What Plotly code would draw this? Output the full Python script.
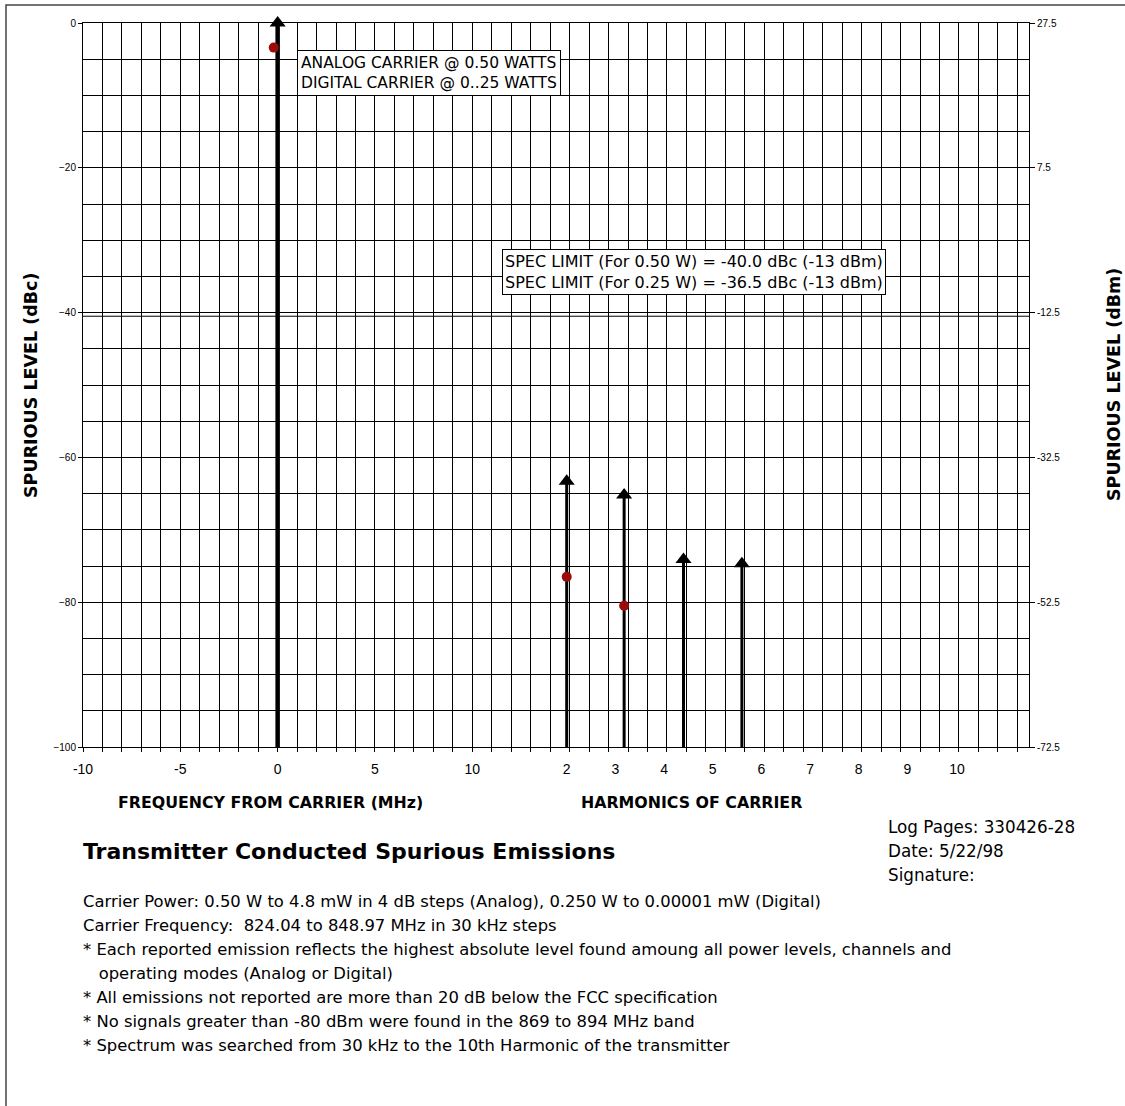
import plotly.graph_objects as go

# ---------------- data ----------------
# x position (axis units: MHz from carrier on left part, harmonic slots on right part)
stem_x = [0.0, 14.85, 17.8, 20.85, 23.85]
stem_level_dbc = [0.0, -63.3, -65.2, -74.1, -74.7]   # analog emissions (arrow tips)
stem_width = [4.5, 3, 3, 3, 3]

digital_x = [-0.2, 14.85, 17.8]
digital_level_dbc = [-3.4, -76.5, -80.5]             # digital emissions (red dots)

spec_limit_dbc = -40.5

x_tick_vals = [-10, -5, 0, 5, 10, 14.85, 17.35, 19.85, 22.35, 24.85, 27.35, 29.85, 32.35, 34.9]
x_tick_text = ["-10", "-5", "0", "5", "10", "2", "3", "4", "5", "6", "7", "8", "9", "10"]

y_left_ticks = [0, -20, -40, -60, -80, -100]
y_right_ticks = [27.5, 7.5, -12.5, -32.5, -52.5, -72.5]
dbm_offset = 27.5
y_floor = -100
x_range = [-10, 38.6]

notes = [
    "Carrier Power: 0.50 W to 4.8 mW in 4 dB steps (Analog), 0.250 W to 0.00001 mW (Digital)",
    "Carrier Frequency:  824.04 to 848.97 MHz in 30 kHz steps",
    "* Each reported emission reflects the highest absolute level found amoung all power levels, channels and",
    "   operating modes (Analog or Digital)",
    "* All emissions not reported are more than 20 dB below the FCC specification",
    "* No signals greater than -80 dBm were found in the 869 to 894 MHz band",
    "* Spectrum was searched from 30 kHz to the 10th Harmonic of the transmitter",
]
log_info = ["Log Pages: 330426-28", "Date: 5/22/98", "Signature:"]

FONT = "Arial, 'Liberation Sans', sans-serif"
WIDE = "'DejaVu Sans', Verdana, sans-serif"

fig = go.Figure()

# spec limit line
fig.add_trace(go.Scatter(x=x_range, y=[spec_limit_dbc, spec_limit_dbc], mode="lines",
                         line=dict(color="black", width=1), showlegend=False, hoverinfo="skip"))

# stems
for xv, yv, w in zip(stem_x, stem_level_dbc, stem_width):
    fig.add_trace(go.Scatter(x=[xv, xv], y=[y_floor, yv], mode="lines",
                             line=dict(color="black", width=w), showlegend=False))
fig.add_trace(go.Scatter(x=stem_x, y=stem_level_dbc, mode="markers", cliponaxis=False,
                         marker=dict(symbol="triangle-up", size=14, color="black"),
                         showlegend=False))
fig.add_trace(go.Scatter(x=digital_x, y=digital_level_dbc, mode="markers", cliponaxis=False,
                         marker=dict(symbol="circle", size=10, color="#9c0a0a"),
                         showlegend=False))
# same points on the dBm axis (invisible) so right axis is tied to data
fig.add_trace(go.Scatter(x=stem_x, y=[v + dbm_offset for v in stem_level_dbc], yaxis="y2",
                         mode="markers", marker=dict(opacity=0), showlegend=False, hoverinfo="skip"))

# layout geometry
L, R, T, B = 83, 96, 23, 359
W, H = 1125, 1106
PW, PH = W - L - R, H - T - B


def px(xp):
    return (xp - L) / PW


def py(yp):
    return (H - B - yp) / PH


def ann(x, y, text, size, family=WIDE, xanchor="left", **kw):
    d = dict(x=px(x), y=py(y), xref="paper", yref="paper", xanchor=xanchor, yanchor="middle",
             text=text, showarrow=False, font=dict(family=family, size=size, color="black"))
    d.update(kw)
    return d


annotations = []
annotations.append(dict(x=1.0, y=-3.75, xref="x", yref="y", xanchor="left", yanchor="top",
                        text="ANALOG CARRIER @ 0.50 WATTS<br>DIGITAL CARRIER @ 0..25 WATTS",
                        showarrow=False, align="left", bgcolor="white", bordercolor="black",
                        borderwidth=1, borderpad=3, font=dict(family=WIDE, size=15.5, color="black")))
annotations.append(dict(x=11.55, y=-31.2, xref="x", yref="y", xanchor="left", yanchor="top",
                        text="SPEC LIMIT (For 0.50 W) = -40.0 dBc (-13 dBm)<br>SPEC LIMIT (For 0.25 W) = -36.5 dBc (-13 dBm)",
                        showarrow=False, align="left", bgcolor="white", bordercolor="black",
                        borderwidth=1, borderpad=2, font=dict(family=WIDE, size=16, color="black")))
# axis group titles
annotations.append(ann(270, 802, "<b>FREQUENCY FROM CARRIER (MHz)</b>", 15.8, WIDE, "center"))
annotations.append(ann(691, 802, "<b>HARMONICS OF CARRIER</b>", 15.8, WIDE, "center"))
# side titles
annotations.append(ann(31, 385, "<b>SPURIOUS LEVEL (dBc)</b>", 17.5, WIDE, "center", textangle=-90))
annotations.append(ann(1114, 385, "<b>SPURIOUS LEVEL (dBm)</b>", 17.5, WIDE, "center", textangle=-90))
# title
annotations.append(ann(81, 851, "<b>Transmitter Conducted Spurious Emissions</b>", 22))
# log info
for i, t in enumerate(log_info):
    annotations.append(ann(886, 827 + 24 * i, t, 16.8))
# notes
for i, t in enumerate(notes):
    txt = t.replace(" ", "&nbsp;") if t.startswith("   ") else t
    annotations.append(ann(81, 901 + 24 * i, txt, 16.4))

fig.update_layout(
    width=W, height=H,
    margin=dict(l=L, r=R, t=T, b=B),
    paper_bgcolor="white", plot_bgcolor="white",
    font=dict(family=FONT, color="black"),
    showlegend=False,
    xaxis=dict(range=x_range, tickmode="array", tickvals=x_tick_vals, ticktext=x_tick_text,
               ticks="", showgrid=False, zeroline=False, showline=True, linecolor="black", linewidth=1,
               mirror=True, tickfont=dict(size=14, family=FONT, color="black"), ticklabelstandoff=9,
               minor=dict(tickmode="linear", tick0=0, dtick=1, showgrid=True, gridcolor="black", gridwidth=1,
                          ticks="outside", ticklen=4, tickcolor="black")),
    yaxis=dict(range=[y_floor, 0], tickmode="array", tickvals=y_left_ticks, ticks="outside", ticklen=4,
               tickcolor="black", showgrid=True, gridcolor="black", gridwidth=1, zeroline=False,
               showline=True, linecolor="black", linewidth=1, mirror=True,
               tickfont=dict(size=10, family=FONT, color="black"),
               minor=dict(tickmode="linear", tick0=0, dtick=5, showgrid=True, gridcolor="black", gridwidth=1)),
    yaxis2=dict(range=[y_floor + dbm_offset, dbm_offset], overlaying="y", side="right", tickmode="array",
                tickvals=y_right_ticks, ticktext=[str(v) for v in y_right_ticks], ticks="outside", ticklen=5,
                tickcolor="black", showgrid=False, zeroline=False, showline=False,
                tickfont=dict(size=10, family=FONT, color="black")),
    annotations=annotations,
    shapes=[dict(type="rect", xref="paper", yref="paper", x0=px(6), x1=px(1135), y0=py(1115), y1=py(5),
                 line=dict(color="#444", width=1.5), fillcolor="rgba(0,0,0,0)", layer="below")],
)

fig.write_html("out.html")
